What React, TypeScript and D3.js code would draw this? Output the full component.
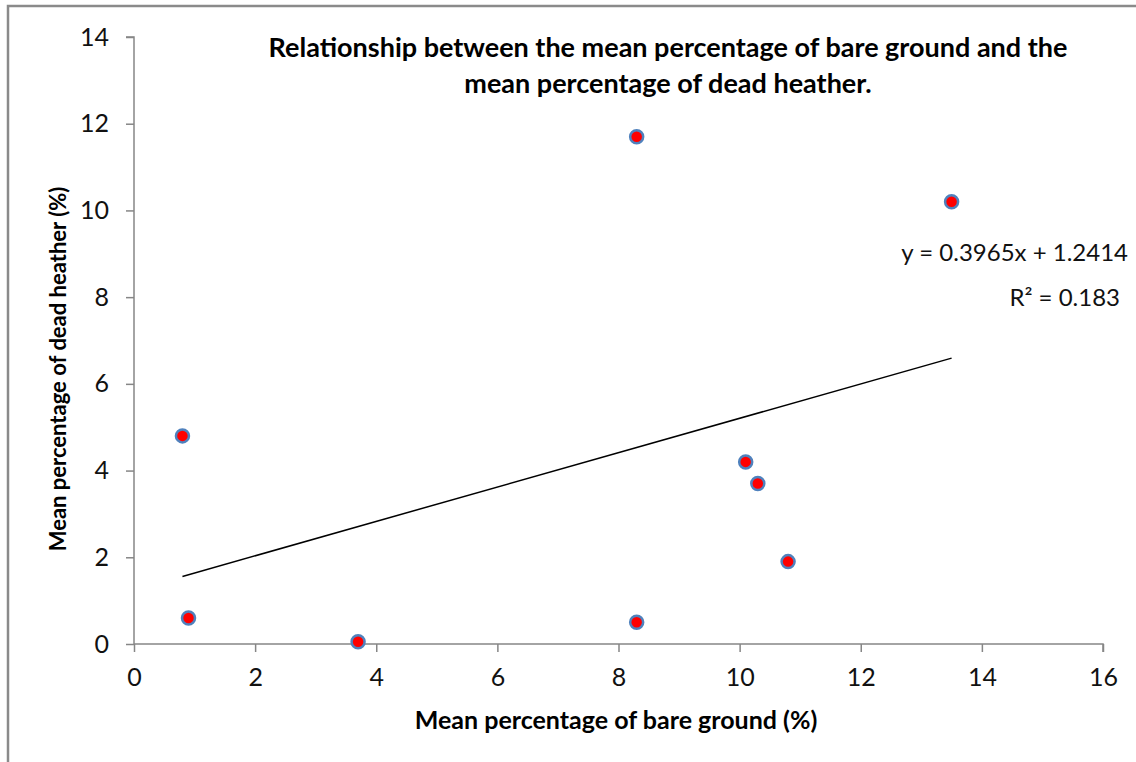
import { useEffect, useRef } from 'react';
import * as d3 from 'd3';

const bareGround = [0.8, 0.9, 3.7, 8.3, 8.3, 10.1, 10.3, 10.8, 13.5];
const deadHeather = [4.8, 0.6, 0.05, 11.7, 0.5, 4.2, 3.7, 1.9, 10.2];
const xTicks = [0, 2, 4, 6, 8, 10, 12, 14, 16];
const yTicks = [0, 2, 4, 6, 8, 10, 12, 14];
const trendSlope = 0.3965;
const trendIntercept = 1.2414;
const rSquared = 0.183;

const titleLines = [
  'Relationship between the mean percentage of bare ground and the',
  'mean percentage of dead heather.',
];

const W = 1136;
const H = 762;
const FONT = 'Lato, "Open Sans", sans-serif';

export default function App() {
  const svgRef = useRef<SVGSVGElement>(null);

  useEffect(() => {
    if (!svgRef.current) return;
    const svg = d3.select(svgRef.current);
    svg.selectAll('*').remove();

    const margin = { left: 134, right: 33, top: 37, bottom: 118 };

    const x = d3.scaleLinear().domain([0, 16]).range([margin.left, W - margin.right]);
    const y = d3.scaleLinear().domain([0, 14]).range([H - margin.bottom, margin.top]);

    // chart frame
    svg.append('rect')
      .attr('x', 8).attr('y', 6)
      .attr('width', W + 20).attr('height', H + 20)
      .attr('fill', '#fff')
      .attr('stroke', '#8a8a8a')
      .attr('stroke-width', 2.5);

    const axisColor = '#868686';

    const xAxis = svg.append('g')
      .attr('transform', `translate(0,${y(0)})`)
      .call(d3.axisBottom(x).tickValues(xTicks).tickSize(8).tickPadding(16).tickFormat(d3.format('d')));
    const yAxis = svg.append('g')
      .attr('transform', `translate(${x(0)},0)`)
      .call(d3.axisLeft(y).tickValues(yTicks).tickSize(8).tickPadding(17).tickFormat(d3.format('d')));

    [xAxis, yAxis].forEach((g) => {
      g.select('.domain').attr('stroke', axisColor).attr('stroke-width', 1.5);
      g.selectAll('.tick line').attr('stroke', axisColor).attr('stroke-width', 1.5);
      g.selectAll('.tick text')
        .attr('fill', '#111')
        .attr('font-family', FONT)
        .attr('font-size', 25);
    });
    xAxis.select('.domain').attr('d', `M${x(0)},0H${x(16)}V8`);
    yAxis.select('.domain').attr('d', `M-8,${y(14)}H0V${y(0)}`);

    // trendline over the data range
    const [xMin, xMax] = d3.extent(bareGround) as [number, number];
    svg.append('line')
      .attr('x1', x(xMin)).attr('y1', y(trendSlope * xMin + trendIntercept))
      .attr('x2', x(xMax)).attr('y2', y(trendSlope * xMax + trendIntercept))
      .attr('stroke', '#000')
      .attr('stroke-width', 1.5);

    // points
    svg.append('g')
      .selectAll('circle')
      .data(bareGround.map((v, i) => [v, deadHeather[i]]))
      .join('circle')
      .attr('cx', (d) => x(d[0]))
      .attr('cy', (d) => y(d[1]))
      .attr('r', 6.5)
      .attr('fill', '#ff0000')
      .attr('stroke', '#4f81bd')
      .attr('stroke-width', 2.5);

    // title
    svg.append('text')
      .attr('text-anchor', 'middle')
      .attr('font-family', FONT)
      .attr('font-size', 27)
      .attr('font-weight', 'bold')
      .selectAll('tspan')
      .data(titleLines)
      .join('tspan')
      .attr('x', 668)
      .attr('y', (_d, i) => 57 + i * 36)
      .text((d) => d);

    // axis titles
    svg.append('text')
      .attr('x', 616).attr('y', 729)
      .attr('text-anchor', 'middle')
      .attr('font-family', FONT)
      .attr('font-size', 25)
      .attr('font-weight', 'bold')
      .text('Mean percentage of bare ground (%)');

    svg.append('text')
      .attr('transform', `translate(66,${369}) rotate(-90)`)
      .attr('text-anchor', 'middle')
      .attr('font-family', FONT)
      .attr('font-size', 22)
      .attr('font-weight', 'bold')
      .text('Mean percentage of dead heather (%)');

    // equation labels
    svg.append('text')
      .attr('x', 1128).attr('y', 261)
      .attr('text-anchor', 'end')
      .attr('font-family', FONT)
      .attr('font-size', 24)
      .attr('fill', '#111')
      .text(`y = ${trendSlope}x + ${trendIntercept}`);

    svg.append('text')
      .attr('x', 1120).attr('y', 306)
      .attr('text-anchor', 'end')
      .attr('font-family', FONT)
      .attr('font-size', 24)
      .attr('fill', '#111')
      .text(`R² = ${rSquared}`);
  }, []);

  return (
    <svg
      ref={svgRef}
      width={W}
      height={H}
      style={{ position: 'absolute', left: 0, top: 0, background: '#fff' }}
    />
  );
}
